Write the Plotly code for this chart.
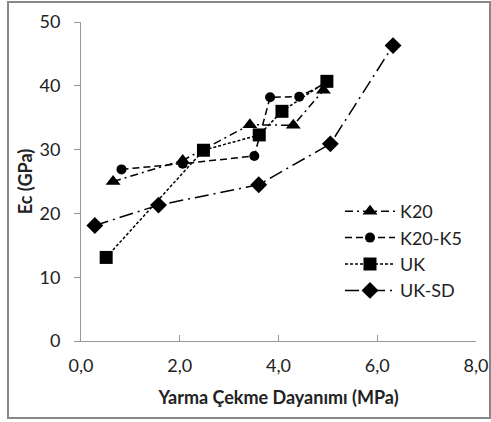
import plotly.graph_objects as go

k20_x = [0.65, 2.06, 3.42, 4.30, 4.91]
k20_y = [25.0, 28.3, 33.9, 33.8, 39.3]
k20k5_x = [0.82, 2.06, 3.51, 3.83, 4.42, 4.98]
k20k5_y = [26.9, 27.8, 29.0, 38.2, 38.3, 40.5]
uk_x = [0.51, 2.48, 3.61, 4.07, 4.98]
uk_y = [13.1, 29.9, 32.3, 36.0, 40.7]
uksd_x = [0.28, 1.57, 3.60, 5.05, 6.32]
uksd_y = [18.1, 21.3, 24.5, 30.9, 46.3]

x_ticks = [0, 2, 4, 6, 8]
x_ticklabels = ["0,0", "2,0", "4,0", "6,0", "8,0"]
y_ticks = [0, 10, 20, 30, 40, 50]

FONT = "Lato"
fig = go.Figure()
fig.add_trace(go.Scatter(x=k20_x, y=k20_y, name="K20", mode="lines+markers",
                         line=dict(color="black", width=1.5, dash="8px,4px,2px,4px"),
                         marker=dict(symbol="triangle-up", size=13, color="black")))
fig.add_trace(go.Scatter(x=k20k5_x, y=k20k5_y, name="K20-K5", mode="lines+markers",
                         line=dict(color="black", width=1.5, dash="7px,4px"),
                         marker=dict(symbol="circle", size=10, color="black")))
fig.add_trace(go.Scatter(x=uk_x, y=uk_y, name="UK", mode="lines+markers",
                         line=dict(color="black", width=1.5, dash="3px,2px"),
                         marker=dict(symbol="square", size=13, color="black")))
fig.add_trace(go.Scatter(x=uksd_x, y=uksd_y, name="UK-SD", mode="lines+markers",
                         line=dict(color="black", width=1.5, dash="14px,5px,2px,5px"),
                         marker=dict(symbol="diamond", size=13, color="black")))

W, H = 491, 422
L, R, T, B = 81, 15, 22, 81
pw, ph = W - L - R, H - T - B
def px2paper(px, py):
    return (px - L) / pw, (H - B - py) / ph
bx0, by0 = px2paper(8, 418)
bx1, by1 = px2paper(490, 2)
lgx, lgy = px2paper(340, 193)

fig.update_layout(
    width=W, height=H,
    margin=dict(l=L, r=R, t=T, b=B),
    paper_bgcolor="white", plot_bgcolor="white",
    font=dict(family=FONT, size=18, color="#222"),
    showlegend=True,
    legend=dict(x=lgx, y=lgy, xanchor="left", yanchor="top",
                bgcolor="rgba(0,0,0,0)", font=dict(size=18, family=FONT),
                tracegroupgap=0, itemwidth=50),
    xaxis=dict(range=[0, 8], tickvals=x_ticks, ticktext=x_ticklabels,
               showgrid=False, zeroline=False, showline=True, linecolor="#999",
               linewidth=1, ticks="inside", ticklen=6, tickcolor="#999",
               ticklabelstandoff=8, automargin=False,
               title=dict(text="<b>Yarma Çekme Dayanımı (MPa)</b>", font=dict(size=18), standoff=16),
               tickfont=dict(size=18)),
    yaxis=dict(range=[0, 50], tickvals=y_ticks, showgrid=False, zeroline=False,
               showline=True, linecolor="#999", linewidth=1, ticks="outside",
               ticklen=6, tickcolor="#999", ticklabelstandoff=10, automargin=False,
               title=dict(text="<b>Ec (GPa)</b>", font=dict(size=18), standoff=2),
               tickfont=dict(size=18)),
    shapes=[dict(type="rect", xref="paper", yref="paper", x0=bx0, y0=by0, x1=bx1, y1=by1,
                 line=dict(color="#888", width=2), layer="below")],
)
fig.write_html("out.html")
